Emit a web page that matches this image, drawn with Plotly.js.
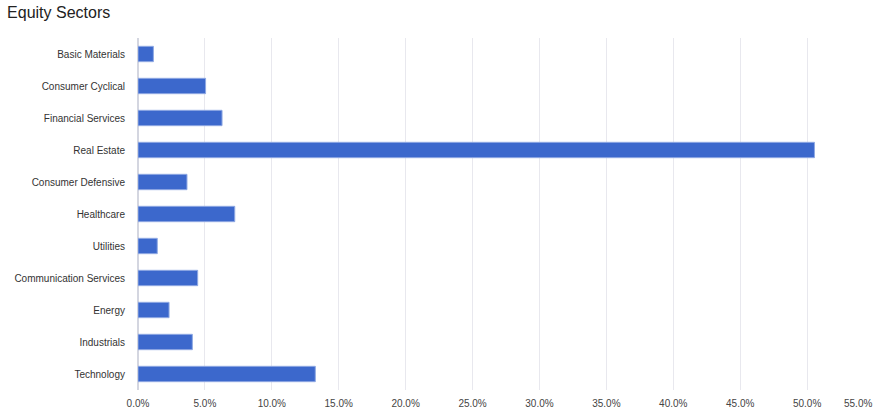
<!DOCTYPE html>
<html>
<head>
<meta charset="utf-8">
<script src="https://cdn.plot.ly/plotly-3.0.1.min.js"></script>
<style>
html,body{margin:0;padding:0;background:#fff;}
#chart{width:883px;height:410px;}
</style>
</head>
<body>
<div id="chart"></div>
<script>
var sectors = ["Basic Materials","Consumer Cyclical","Financial Services","Real Estate","Consumer Defensive","Healthcare","Utilities","Communication Services","Energy","Industrials","Technology"];
var weights = [1.15, 5.05, 6.28, 50.55, 3.66, 7.23, 1.44, 4.46, 2.32, 4.06, 13.25];
var tickValues = [0,5,10,15,20,25,30,35,40,45,50,55];
var tickLabels = ["0.0%","5.0%","10.0%","15.0%","20.0%","25.0%","30.0%","35.0%","40.0%","45.0%","50.0%",""];
var lastTickLabel = "55.0%";

var trace = {
  type: 'bar',
  orientation: 'h',
  y: sectors,
  x: weights,
  marker: {color: '#3c68cc', line: {color: '#8fa9e3', width: 1}},
  hoverinfo: 'y+x'
};

var layout = {
  width: 883, height: 410,
  margin: {l: 138, r: 9, t: 38, b: 20},
  paper_bgcolor: '#fff', plot_bgcolor: '#fff',
  font: {family: 'Arial, "Liberation Sans", sans-serif', size: 11, color: '#444'},
  title: {text: 'Equity Sectors', x: 0.008, xanchor: 'left', y: 0.97, yanchor: 'middle', font: {size: 16, color: '#222'}},
  bargap: 0.52,
  showlegend: false,
  xaxis: {
    range: [0, 55], tickvals: tickValues, ticktext: tickLabels,
    showgrid: true, gridcolor: '#e8e8ee', gridwidth: 1,
    zeroline: true, zerolinecolor: '#d4d6e0', zerolinewidth: 2,
    showline: false, ticks: '', fixedrange: true, ticklabelstandoff: 6,
    tickfont: {size: 10, color: '#444'}
  },
  yaxis: {
    autorange: 'reversed', showgrid: false, zeroline: false, showline: false,
    ticks: '', ticklabelstandoff: 12, tickfont: {size: 10, color: '#333'}
  },
  annotations: [{
    xref: 'x', yref: 'paper', x: 55, y: 0, xanchor: 'right', yanchor: 'top', yshift: -6,
    text: lastTickLabel, showarrow: false, font: {size: 10, color: '#444'}
  }]
};

Plotly.newPlot('chart', [trace], layout, {displayModeBar: false, staticPlot: true});
</script>
</body>
</html>
